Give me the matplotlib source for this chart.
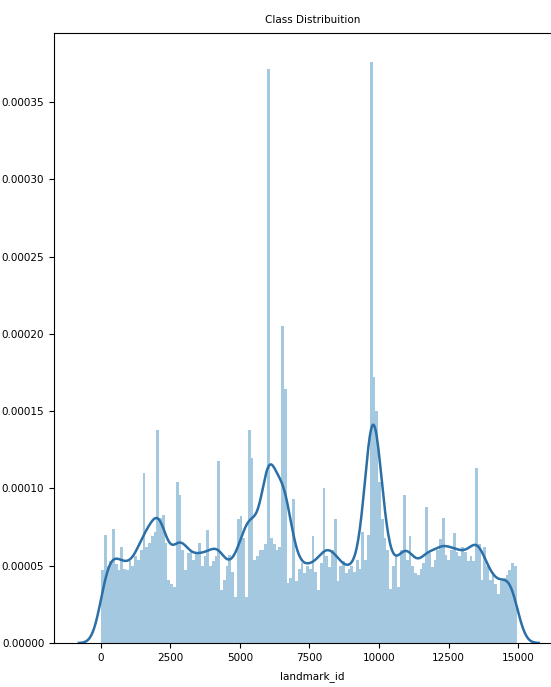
import numpy as np
import matplotlib.pyplot as plt
from matplotlib.ticker import FormatStrFormatter

# landmark_id range and histogram (density per bin, in units of 1e-5)
id_min, id_max = 0, 14951
density_e5 = [
    4.7, 7.0, 5.0, 5.3, 7.4, 5.1, 4.7, 6.2, 4.8, 4.7, 5.3, 5.0, 5.6, 5.4, 6.0,
    11.0, 6.2, 6.5, 6.9, 7.2, 13.8, 8.1, 8.3, 6.5, 4.1, 3.8, 3.6, 10.4, 9.6, 6.0,
    4.7, 5.8, 6.0, 5.4, 5.8, 6.5, 5.0, 5.6, 7.3, 5.0, 5.3, 5.6, 11.8, 3.4, 4.1,
    5.0, 5.7, 4.6, 3.0, 8.0, 8.2, 6.8, 3.0, 13.8, 12.0, 5.4, 5.6, 6.0, 6.0, 6.4,
    37.1, 6.8, 6.4, 6.0, 6.2, 20.5, 16.4, 3.9, 4.2, 9.3, 4.0, 4.8, 5.2, 4.5, 5.0,
    4.8, 6.9, 4.6, 3.4, 5.2, 10.0, 5.6, 4.9, 6.0, 8.0, 4.0, 5.0, 5.3, 4.5, 4.8,
    5.0, 4.6, 5.4, 4.8, 7.2, 5.4, 7.0, 37.6, 17.2, 15.0, 10.4, 8.0, 6.8, 6.0, 3.5,
    5.0, 5.6, 3.6, 6.0, 9.6, 5.4, 6.9, 5.0, 4.5, 4.4, 4.8, 5.2, 8.8, 5.8, 4.9,
    5.4, 6.0, 6.7, 8.1, 5.7, 5.4, 6.0, 7.1, 5.9, 5.6, 6.2, 5.9, 5.3, 5.6, 5.3,
    11.3, 6.4, 4.1, 6.2, 5.0, 4.1, 4.6, 3.8, 3.2, 4.0, 4.2, 4.4, 4.7, 5.2, 5.0,
]
kde_bw = 265
x_ticks = [0, 2500, 5000, 7500, 10000, 12500, 15000]
y_ticks = [0, 0.00005, 0.00010, 0.00015, 0.00020, 0.00025, 0.00030, 0.00035]

edges = np.linspace(id_min, id_max, len(density_e5) + 1)
centers = 0.5 * (edges[:-1] + edges[1:])
widths = np.diff(edges)
density = np.array(density_e5) * 1e-5

# gaussian kde of the binned counts
xs = np.linspace(id_min - 3 * kde_bw, id_max + 3 * kde_bw, 600)
weights = density * widths
kern = np.exp(-0.5 * ((xs[:, None] - centers[None, :]) / kde_bw) ** 2) / (kde_bw * np.sqrt(2 * np.pi))
kde = kern @ weights

fig = plt.figure(figsize=(5.51, 6.87), dpi=100)
ax = fig.add_axes([0.098, 0.064, 0.938, 0.888])

ax.bar(edges[:-1], density, width=widths, align='edge', color='#1f77b4',
       alpha=0.4, linewidth=0)
ax.plot(xs, kde, color='#2b6fa6', lw=1.8)

ax.set_xlim(-1690, 16900)
ax.set_ylim(0, 0.0003946)
ax.set_xticks(x_ticks)
ax.set_yticks(y_ticks)
ax.yaxis.set_major_formatter(FormatStrFormatter('%.5f'))
ax.tick_params(labelsize=7.5, length=3.5)
ax.set_title('Class Distribuition', fontsize=7.5, pad=7)
ax.set_xlabel('landmark_id', fontsize=7.5, labelpad=6)

fig.savefig('out.png', dpi=100)
